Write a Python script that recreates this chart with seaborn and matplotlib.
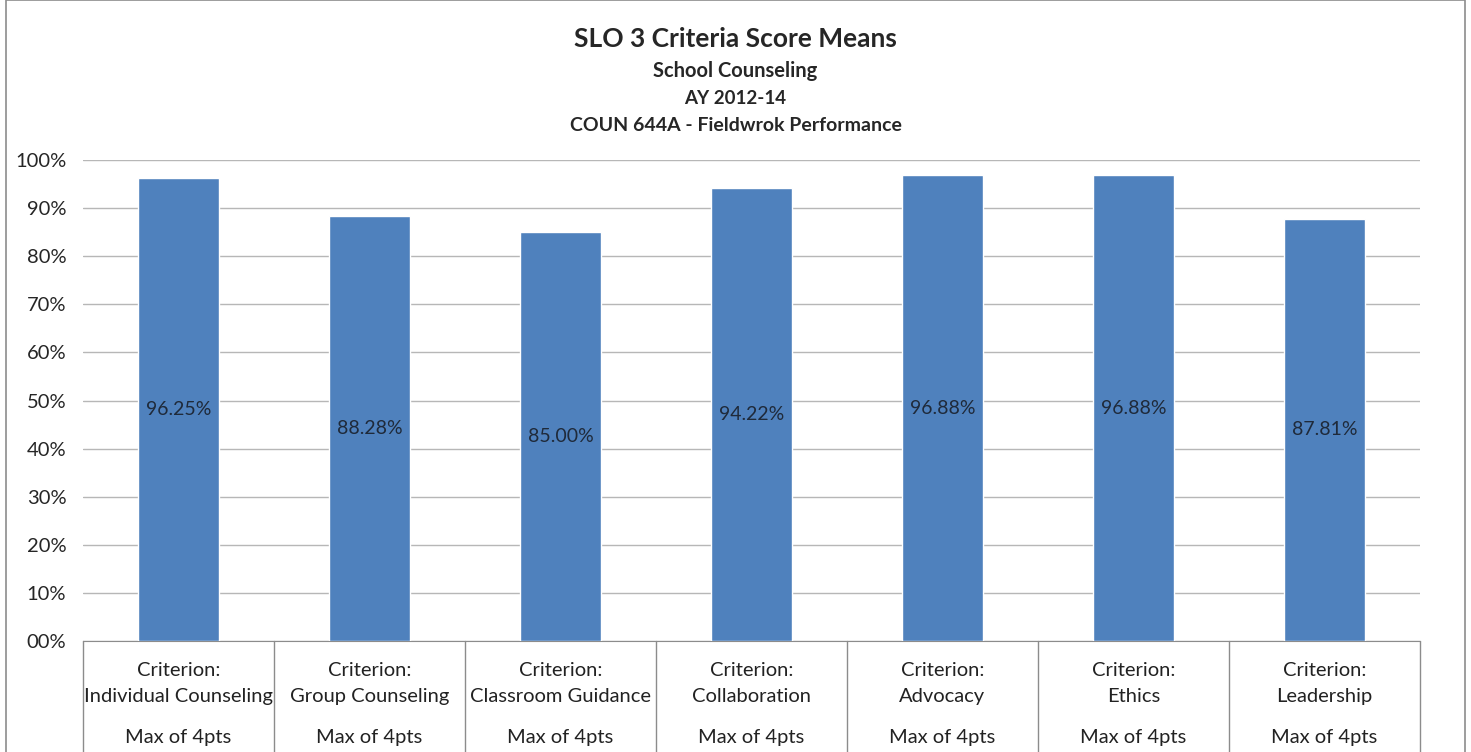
import matplotlib
matplotlib.use("Agg")
import matplotlib.pyplot as plt
import matplotlib.ticker as mticker
from matplotlib.patches import Rectangle
import pandas as pd
import seaborn as sns

# data
criteria = ["Individual Counseling", "Group Counseling", "Classroom Guidance",
            "Collaboration", "Advocacy", "Ethics", "Leadership"]
means = [96.25, 88.28, 85.00, 94.22, 96.88, 96.88, 87.81]
max_label = "Max of 4pts"

df = pd.DataFrame({"criterion": criteria, "mean": means})

sns.set_style("white")
plt.rcParams["font.family"] = ["Lato", "DejaVu Sans"]

fig = plt.figure(figsize=(14.71, 7.52), dpi=100)
ax = fig.add_axes([0.0564, 0.1476, 0.9089, 0.6396])

sns.barplot(data=df, x="criterion", y="mean", color="#4f81bd", width=0.42,
            saturation=1, ax=ax, zorder=3)

ax.set_ylim(0, 100)
ax.set_xlim(-0.5, len(criteria) - 0.5)
ax.yaxis.set_major_locator(mticker.MultipleLocator(10))
ax.yaxis.set_major_formatter(mticker.FuncFormatter(lambda v, p: f"{v:02.0f}%"))
ax.grid(axis="y", color="#b7b7b7", linewidth=1, zorder=0)
ax.tick_params(axis="y", labelsize=14.5, length=8, color="#b7b7b7", pad=4)
ax.tick_params(axis="x", length=0)
ax.set_xticklabels([])
ax.set_xlabel("")
ax.set_ylabel("")
for s in ["top", "right", "left"]:
    ax.spines[s].set_visible(False)
ax.spines["bottom"].set_color("#8c8c8c")

# labels in the middle of the bars
ax.bar_label(ax.containers[0], labels=[f"{v:.2f}%" for v in means],
             label_type="center", fontsize=14, color="#1f2a3a")

# category boxes under the axis
trans = ax.get_xaxis_transform()
for i, name in enumerate(criteria):
    ax.text(i, -0.043, "Criterion:\n" + name, transform=trans, ha="center",
            va="top", fontsize=14.5, linespacing=1.65, color="#222222")
    ax.text(i, -0.2, max_label, transform=trans, ha="center", va="center",
            fontsize=14.5, color="#222222")
for b in range(len(criteria) + 1):
    ax.plot([b - 0.5, b - 0.5], [0, -0.25], transform=trans, color="#8c8c8c",
            linewidth=1, clip_on=False)

# titles
fig.text(0.5, 0.948, "SLO 3 Criteria Score Means", ha="center", va="center",
         fontsize=19, fontweight="bold")
fig.text(0.5, 0.906, "School Counseling", ha="center", va="center",
         fontsize=14.5, fontweight="bold")
fig.text(0.5, 0.869, "AY 2012-14", ha="center", va="center",
         fontsize=13.5, fontweight="bold")
fig.text(0.5, 0.833, "COUN 644A - Fieldwrok Performance", ha="center",
         va="center", fontsize=14, fontweight="bold")

# outer frame of the chart area
fig.patches.append(Rectangle((0.004, -0.01), 0.992, 1.01, transform=fig.transFigure,
                             fill=False, edgecolor="#8c8c8c", linewidth=1.2))

fig.savefig("out.png", dpi=100)
